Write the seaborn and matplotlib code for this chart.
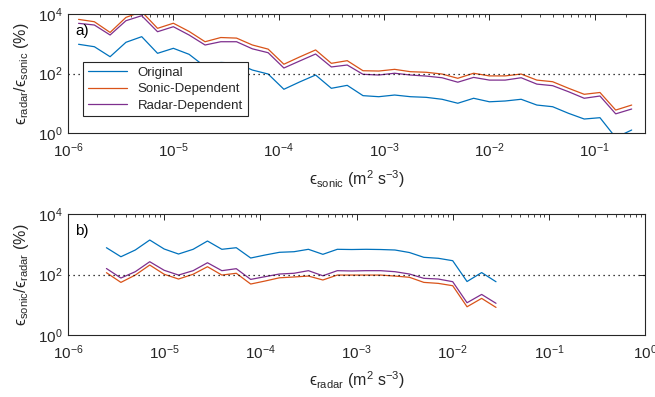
import numpy as np
import pandas as pd
import matplotlib
matplotlib.use('Agg')
import matplotlib.pyplot as plt
import matplotlib.ticker as mticker
import seaborn as sns

sns.set_theme(style='white')
plt.rcParams['font.family'] = ['Liberation Sans', 'DejaVu Sans']
plt.rcParams['mathtext.fontset'] = 'custom'
plt.rcParams['mathtext.rm'] = 'Liberation Sans'
plt.rcParams['mathtext.it'] = 'Liberation Sans:italic'
plt.rcParams['mathtext.bf'] = 'Liberation Sans:bold'

# 数据
eps_sonic = [1.26e-6, 1.78e-6, 2.51e-6, 3.55e-6, 5.01e-6, 7.08e-6, 1.0e-5, 1.41e-5,
             2.0e-5, 2.82e-5, 3.98e-5, 5.62e-5, 7.94e-5, 1.12e-4, 1.58e-4, 2.24e-4,
             3.16e-4, 4.47e-4, 6.31e-4, 8.91e-4, 1.26e-3, 1.78e-3, 2.51e-3, 3.55e-3,
             5.01e-3, 7.08e-3, 1.0e-2, 1.41e-2, 2.0e-2, 2.82e-2, 3.98e-2, 5.62e-2,
             7.94e-2, 0.112, 0.158, 0.224]
a_original = [960, 795, 367, 1120, 1730, 477, 703, 442, 170, 235, 224, 131, 96, 29.5,
              52, 89, 31.8, 40, 18, 16.6, 18.9, 16.6, 15.8, 13.6, 10, 14.7, 11.2, 11.9,
              13.6, 8.7, 7.65, 4.6, 2.95, 3.27, 0.7, 1.26]
a_sonic_dep = [6600, 5500, 2400, 7700, 12000, 3300, 4900, 2600, 1170, 1620, 1550, 910,
               660, 205, 360, 620, 220, 270, 124, 121, 138, 115, 110, 96, 69, 102, 83,
               83, 96, 60, 53, 32, 20, 23, 5.9, 8.7]
a_radar_dep = [4860, 4270, 1970, 5960, 8770, 2540, 3740, 1970, 908, 1170, 1170, 676,
               500, 153, 263, 452, 166, 193, 94, 89, 102, 89, 82, 72, 51, 74, 60, 60,
               72, 44, 39, 24.5, 14.7, 17.5, 4.4, 6.4]

eps_radar = [2.51e-6, 3.55e-6, 5.01e-6, 7.08e-6, 1.0e-5, 1.41e-5, 2.0e-5, 2.82e-5,
             3.98e-5, 5.62e-5, 7.94e-5, 1.12e-4, 1.58e-4, 2.24e-4, 3.16e-4, 4.47e-4,
             6.31e-4, 8.91e-4, 1.26e-3, 1.78e-3, 2.51e-3, 3.55e-3, 5.01e-3, 7.08e-3,
             1.0e-2, 1.41e-2, 2.0e-2, 2.82e-2]
b_original = [769, 387, 646, 1380, 697, 476, 681, 1280, 681, 769, 351, 441, 542, 567,
              681, 465, 681, 670, 681, 670, 646, 533, 370, 344, 286, 58.7, 116, 57.8]
b_sonic_dep = [115, 55, 96, 206, 102, 71, 102, 181, 96, 110, 48.5, 61, 78, 83, 89, 66,
               96, 96, 96, 96, 89, 81, 55, 51, 42.7, 8.6, 16.3, 8.2]
b_radar_dep = [158, 76.6, 124, 265, 138, 96, 134, 245, 134, 156, 69, 85, 104, 110, 134,
               91, 134, 131, 134, 134, 124, 104, 75, 71, 58, 11.7, 22, 11.2]

series_names = ['Original', 'Sonic-Dependent', 'Radar-Dependent']
colors = ['#0072BD', '#D95319', '#7E2F8E']

fig = plt.figure(figsize=(6.55, 3.97), dpi=100)
ax1 = fig.add_axes([0.1038, 0.665, 0.881, 0.2997])
ax2 = fig.add_axes([0.1038, 0.156, 0.881, 0.305])

panels = [
    (ax1, eps_sonic, [a_original, a_sonic_dep, a_radar_dep], (1e-6, 0.3),
     'ϵ$_{\\rm sonic}$ (m$^2$ s$^{-3}$)',
     'ϵ$_{\\rm radar}$/ϵ$_{\\rm sonic}$ (%)', 'a)', -0.30),
    (ax2, eps_radar, [b_original, b_sonic_dep, b_radar_dep], (1e-6, 1.0),
     'ϵ$_{\\rm radar}$ (m$^2$ s$^{-3}$)',
     'ϵ$_{\\rm sonic}$/ϵ$_{\\rm radar}$ (%)', 'b)', -0.28),
]

for ax, xv, ys, xlim, xlabel, ylabel, tag, xlab_y in panels:
    for name, yv, c in zip(series_names, ys, colors):
        sns.lineplot(x=xv, y=yv, color=c, lw=0.9, label=name, ax=ax)
    ax.axhline(100, color='black', ls=(0, (1, 3)), lw=0.9)
    ax.set_xscale('log')
    ax.set_yscale('log')
    ax.set_xlim(*xlim)
    ax.set_ylim(1, 1e4)
    ax.set_yticks([1, 1e2, 1e4])
    ax.yaxis.set_minor_locator(mticker.NullLocator())
    ax.xaxis.set_major_locator(mticker.LogLocator(base=10, numticks=12))
    ax.xaxis.set_minor_locator(mticker.LogLocator(base=10, subs=np.arange(2, 10), numticks=12))
    ax.tick_params(which='both', direction='in', top=True, right=True,
                   colors='#262626', labelcolor='#262626', labelsize=11)
    ax.tick_params(axis='x', pad=6)
    ax.tick_params(axis='y', pad=4)
    ax.tick_params(which='major', length=4, width=0.7)
    ax.tick_params(which='minor', length=2, width=0.6)
    for s in ax.spines.values():
        s.set_color('#262626')
        s.set_linewidth(0.8)
    ax.set_xlabel(xlabel, fontsize=11.5, color='#262626')
    ax.set_ylabel(ylabel, fontsize=11.5, color='#262626')
    ax.xaxis.set_label_coords(0.5, xlab_y)
    ax.yaxis.set_label_coords(-0.064, 0.5)
    ax.text(0.012, 0.86, tag, transform=ax.transAxes, fontsize=11, color='black',
            va='center', ha='left')

leg = ax1.legend(loc='upper left', bbox_to_anchor=(0.026, 0.597), borderaxespad=0,
                 fontsize=9.5, handlelength=3.0, frameon=True, fancybox=False,
                 framealpha=1, edgecolor='#262626', borderpad=0.35,
                 labelspacing=0.32, handletextpad=0.8)
leg.get_frame().set_linewidth(0.8)
ax2.get_legend().remove()

fig.savefig('out.png', dpi=100)
